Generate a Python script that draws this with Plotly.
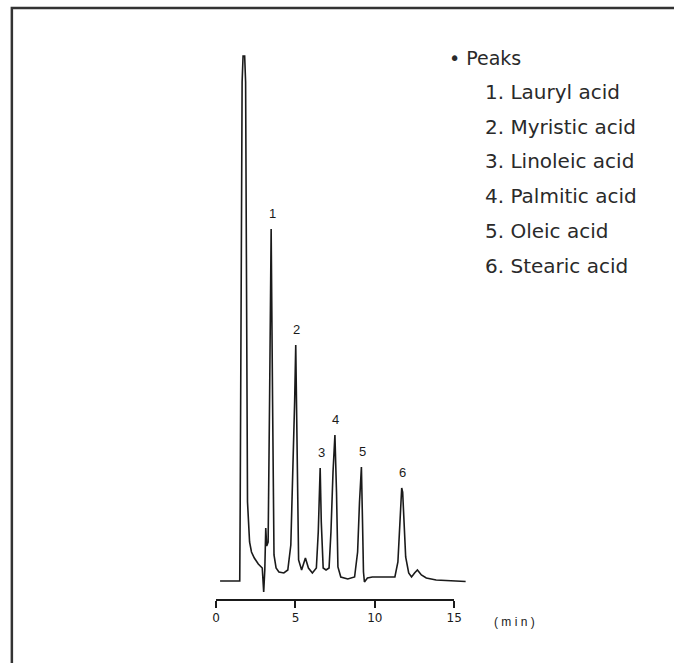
import plotly.graph_objects as go

# Chromatogram trace (time in min, detector signal in arbitrary units)
trace_time = [0.25, 1.49, 1.52, 1.58, 1.64, 1.70, 1.80, 1.86, 1.92, 1.98, 2.11, 2.23, 2.41, 2.66,
              2.91, 3.00, 3.07, 3.13, 3.19, 3.28, 3.37, 3.47, 3.56, 3.65, 3.78, 3.96, 4.27, 4.52,
              4.71, 4.83, 4.95, 5.02, 5.08, 5.14, 5.20, 5.39, 5.63, 5.82, 6.07, 6.32, 6.44, 6.56,
              6.63, 6.75, 6.93, 7.12, 7.24, 7.37, 7.49, 7.59, 7.68, 7.86, 8.30, 8.73, 8.92, 9.04,
              9.16, 9.23, 9.29, 9.35, 9.54, 9.85, 10.77, 11.27, 11.46, 11.58, 11.70, 11.76, 11.83,
              11.95, 12.14, 12.32, 12.51, 12.69, 12.94, 13.25, 13.87, 14.30, 15.11, 15.73]
trace_signal = [1, 1, 80, 300, 500, 526, 526, 500, 300, 80, 40, 30, 24, 18,
                14, -10, 12, 54, 36, 40, 180, 353, 180, 27, 14, 10, 9, 12,
                37, 100, 180, 237, 160, 60, 22, 12, 24, 14, 9, 14, 50, 114,
                60, 14, 12, 14, 50, 110, 147, 90, 15, 5, 3, 5, 30, 80,
                115, 60, 10, 0, 4, 5, 5, 5, 20, 55, 94, 90, 60,
                25, 9, 5, 9, 12, 7, 4, 2, 1.5, 1, 0.5]

# Labelled peaks
peak_numbers = ["1", "2", "3", "4", "5", "6"]
peak_times = [3.47, 5.02, 6.56, 7.49, 9.16, 11.70]
peak_heights = [353, 237, 114, 147, 115, 94]
compound_names = ["Lauryl acid", "Myristic acid", "Linoleic acid",
                  "Palmitic acid", "Oleic acid", "Stearic acid"]

# Axis ticks
tick_values = [0, 5, 10, 15]
tick_labels = ["0", "5", "10", "15"]
axis_unit = "(min)"

W, H = 674, 663
ink = "#1a1a1a"
text_ink = "#2a2a2a"

fig = go.Figure()
fig.add_trace(go.Scatter(x=trace_time, y=trace_signal, mode="lines",
                         line=dict(color=ink, width=1.6), hoverinfo="skip"))
# dummy trace so that the visible time axis is drawn
fig.add_trace(go.Scatter(x=[tick_values[0], tick_values[-1]], y=[None, None],
                         xaxis="x2", yaxis="y", mode="lines", hoverinfo="skip"))

annotations = []
for num, t, h in zip(peak_numbers, peak_times, peak_heights):
    annotations.append(dict(x=t, y=h, xref="x", yref="y", text=num, showarrow=False,
                            yanchor="bottom", yshift=6, xshift=1,
                            font=dict(family="Liberation Sans", size=13, color=ink)))

annotations.append(dict(x=451 / W, y=1 - 58 / H, xref="paper", yref="paper",
                        text="• Peaks", showarrow=False, xanchor="left", yanchor="middle",
                        font=dict(family="DejaVu Sans", size=19, color=text_ink)))
for i, (num, name) in enumerate(zip(peak_numbers, compound_names)):
    annotations.append(dict(x=488 / W, y=1 - (92 + 34.7 * i) / H, xref="paper", yref="paper",
                            text=f"{num}. {name}", showarrow=False, xanchor="left",
                            yanchor="middle",
                            font=dict(family="DejaVu Sans", size=20, color=text_ink)))

annotations.append(dict(x=497 / W, y=1 - 622 / H, xref="paper", yref="paper",
                        text="( m i n )", showarrow=False, xanchor="left", yanchor="middle",
                        font=dict(family="Liberation Sans", size=12, color=ink)))

fig.update_layout(
    width=W, height=H,
    margin=dict(l=0, r=0, t=0, b=0),
    paper_bgcolor="white", plot_bgcolor="rgba(0,0,0,0)",
    showlegend=False,
    xaxis=dict(domain=[0, 1], range=[-13.37, 28.36], visible=False),
    yaxis=dict(domain=[0, 1], range=[-81, 582], visible=False),
    xaxis2=dict(domain=[216 / W, 458.3 / W], range=[0, 15], anchor="free",
                position=63 / H, showline=True, linecolor=ink, linewidth=1.5,
                ticks="outside", ticklen=7, tickwidth=1.5, tickcolor=ink,
                tickvals=tick_values, ticktext=tick_labels, showgrid=False,
                zeroline=False, tickfont=dict(family="DejaVu Sans", size=12, color=ink)),
    annotations=annotations,
    shapes=[dict(type="rect", xref="paper", yref="paper",
                 x0=8 / W, y0=-0.05, x1=1.05, y1=1 - 8 / H,
                 line=dict(color="#333333", width=2.5))],
)

fig.write_html("out.html")
